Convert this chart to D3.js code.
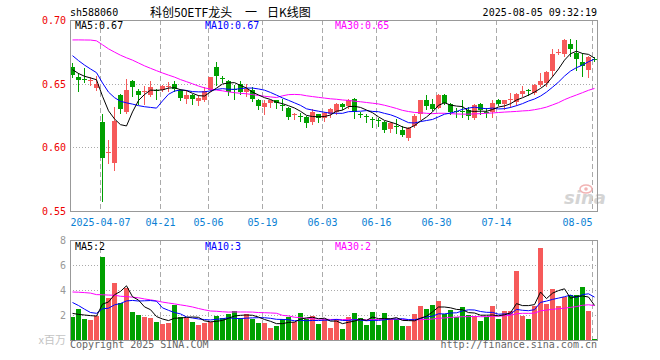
<!DOCTYPE html>
<html>
<head>
<meta charset="utf-8">
<script src="https://cdn.jsdelivr.net/npm/d3@7"></script>
<style>
body{margin:0;background:#fff;}
text{font-family:"DejaVu Sans Mono",monospace;font-size:10px;}
</style>
</head>
<body>
<div id="chart"></div>
<script>
// daily candles (yuan)
const openP = [0.663,0.655,0.6535,0.652,0.647,0.620,0.5955,0.588,0.641,0.628,
 0.652,0.644,0.644,0.641,0.645,0.645,0.6477,0.650,0.645,0.638,
 0.641,0.637,0.6374,0.645,0.663,0.6548,0.652,0.6462,0.650,0.644,
 0.645,0.637,0.632,0.635,0.637,0.633,0.631,0.6255,0.6245,0.624,
 0.620,0.626,0.623,0.626,0.628,0.634,0.632,0.638,0.6262,0.6243,
 0.622,0.6212,0.620,0.614,0.6168,0.614,0.607,0.617,0.626,0.637,
 0.634,0.631,0.641,0.634,0.6285,0.6285,0.629,0.623,0.634,0.628,
 0.628,0.637,0.634,0.6372,0.636,0.642,0.6448,0.643,0.649,0.650,
 0.660,0.674,0.673,0.681,0.674,0.667,0.661,0.6697];
const highP = [0.666,0.658,0.662,0.655,0.656,0.626,0.606,0.632,0.642,0.654,
 0.653,0.646,0.648,0.652,0.646,0.6492,0.651,0.652,0.646,0.645,
 0.642,0.641,0.647,0.6555,0.667,0.656,0.653,0.649,0.652,0.650,
 0.647,0.638,0.637,0.6375,0.6375,0.638,0.632,0.627,0.627,0.6245,
 0.630,0.6265,0.628,0.631,0.635,0.635,0.638,0.639,0.628,0.626,
 0.624,0.623,0.621,0.620,0.622,0.617,0.616,0.626,0.6375,0.641,
 0.638,0.642,0.6415,0.635,0.631,0.637,0.632,0.634,0.6345,0.631,
 0.637,0.638,0.6375,0.643,0.643,0.648,0.646,0.650,0.658,0.660,
 0.677,0.677,0.685,0.685,0.684,0.674,0.672,0.671];
const lowP = [0.655,0.644,0.651,0.649,0.645,0.558,0.588,0.582,0.627,0.627,
 0.640,0.634,0.634,0.640,0.638,0.644,0.644,0.644,0.637,0.635,
 0.634,0.633,0.636,0.644,0.649,0.651,0.641,0.638,0.642,0.640,
 0.636,0.630,0.626,0.632,0.631,0.629,0.622,0.622,0.621,0.616,
 0.618,0.620,0.621,0.624,0.626,0.630,0.631,0.623,0.624,0.620,
 0.616,0.617,0.612,0.612,0.611,0.609,0.606,0.616,0.622,0.630,
 0.629,0.6305,0.634,0.626,0.624,0.624,0.622,0.622,0.626,0.624,
 0.624,0.633,0.630,0.632,0.633,0.640,0.641,0.642,0.648,0.648,
 0.656,0.673,0.672,0.672,0.661,0.656,0.655,0.668];
const closeP = [0.657,0.653,0.653,0.6525,0.650,0.592,0.596,0.621,0.630,0.645,
 0.647,0.641,0.6445,0.647,0.6445,0.6485,0.6482,0.646,0.639,0.641,
 0.638,0.639,0.6445,0.655,0.656,0.6543,0.643,0.6457,0.644,0.646,
 0.638,0.632,0.635,0.637,0.635,0.6325,0.624,0.626,0.624,0.619,
 0.628,0.623,0.627,0.630,0.634,0.632,0.637,0.628,0.6257,0.6238,
 0.6215,0.6207,0.614,0.619,0.6163,0.610,0.615,0.625,0.637,0.632,
 0.630,0.641,0.635,0.628,0.628,0.628,0.624,0.633,0.629,0.6275,
 0.635,0.634,0.637,0.6377,0.642,0.644,0.6443,0.649,0.652,0.659,
 0.673,0.6745,0.684,0.677,0.669,0.664,0.671,0.6692];
// volume, millions of shares
const volume = [1.87,2.48,1.68,1.60,1.95,6.64,3.33,4.59,2.93,4.19,
 2.27,2.00,1.87,1.79,1.44,1.31,1.36,2.80,1.87,1.73,
 1.44,1.23,1.39,1.47,1.95,1.79,2.08,2.32,1.73,2.08,
 1.68,1.36,1.36,0.99,1.15,1.68,1.87,1.47,2.16,1.68,
 1.92,1.28,1.68,0.99,1.71,0.88,1.84,2.16,1.76,1.20,
 2.24,1.20,2.16,1.68,1.68,1.12,1.12,2.08,2.72,2.48,
 2.80,3.12,2.08,2.40,1.84,2.64,2.00,1.92,1.52,1.84,
 2.72,1.68,2.32,2.32,5.52,1.92,1.68,2.72,7.36,2.88,
 4.08,2.72,3.44,3.60,3.60,4.24,2.32,0.08];
// days before the window: not drawn, estimated so the MA lines start where the chart has them
const priorClose = [0.652,0.655,0.654,0.668,0.685,0.692,0.698,0.703,0.706,0.702,
 0.708,0.712,0.705,0.700,0.703,0.698,0.694,0.697,0.690,0.688,
 0.692,0.688,0.683,0.679,0.673,0.668,0.664,0.659,0.657];
const priorVolume = [3.0,2.6,2.8,5.6,7.0,4.1,4.9,5.4,5.0,3.7,
 3.5,4.6,4.0,3.8,4.3,3.6,4.9,4.2,4.0,4.2,
 4.9,4.6,4.26,2.6,2.99,2.88,1.93,1.85,2.12];

const tickIdx = [5,15,23,32,42,51,61,71,87];
const tickLabel = ["2025-04-07","04-21","05-06","05-19","06-03","06-16","06-30","07-14","08-05"];
const priceTicks = [0.55,0.60,0.65,0.70];
const priceGrid = [0.60,0.65];
const volTicks = [2,4,6,8];
const volGrid = [2,4,6];

const RED = "#f65a5a", GREEN = "#00a000";
const n = closeP.length;

function ma(prior, vals, k) {
  const all = prior.concat(vals);
  return vals.map((v, i) => d3.mean(all.slice(prior.length + i - k + 1, prior.length + i + 1)));
}

const svg = d3.select("#chart").append("svg")
  .attr("width", 660).attr("height", 360)
  .style("display", "block");

const x = d3.scaleLinear().domain([0, n]).range([70, 70 + 6 * n]);
const yP = d3.scaleLinear().domain([0.55, 0.70]).range([211, 20]);
const yV = d3.scaleLinear().domain([0, 8]).range([340, 240]);
const L = 70, R = 597;

// header
svg.append("text").attr("x", 70).attr("y", 16).text("sh588060");
[["科创50ETF龙头", 150], ["一", 245], ["日K线图", 267]].forEach(([t, px]) =>
  svg.append("text").attr("x", px).attr("y", 17)
    .style("font-family", "'Noto Sans CJK SC'").style("font-size", "12px")
    .text(t));
svg.append("text").attr("x", R).attr("y", 16).attr("text-anchor", "end").text("2025-08-05 09:32:19");

// grids
function panelGrid(y0, y1) {
  const g = svg.append("g").attr("shape-rendering", "crispEdges");
  g.selectAll("line").data(tickIdx).enter().append("line")
    .attr("x1", d => x(d) + 0.5).attr("x2", d => x(d) + 0.5)
    .attr("y1", y0).attr("y2", y1)
    .attr("stroke", "#aaa").attr("stroke-dasharray", "5,3");
}
panelGrid(20, 211);
panelGrid(240, 340);

svg.append("g").selectAll("line").data(priceGrid).enter().append("line")
  .attr("x1", L).attr("x2", R)
  .attr("y1", d => Math.round(yP(d)) + 0.5).attr("y2", d => Math.round(yP(d)) + 0.5)
  .attr("stroke", "#aaa").attr("stroke-dasharray", "1,2");
svg.append("g").selectAll("line").data(volGrid).enter().append("line")
  .attr("x1", L).attr("x2", R)
  .attr("y1", d => Math.round(yV(d)) + 0.5).attr("y2", d => Math.round(yV(d)) + 0.5)
  .attr("stroke", "#aaa").attr("stroke-dasharray", "1,2");

// sina watermark
const wm = svg.append("g");
wm.append("text").attr("x", 564).attr("y", 204)
  .style("font-family", "'DejaVu Sans'").style("font-size", "18px")
  .style("font-weight", "bold").style("font-style", "italic")
  .attr("fill", "#d4d4d4").text("sina");
wm.append("ellipse").attr("cx", 586).attr("cy", 189).attr("rx", 6).attr("ry", 4)
  .attr("fill", "none").attr("stroke", "#f2b4b4").attr("stroke-width", 1.5);
wm.append("circle").attr("cx", 586).attr("cy", 189).attr("r", 1.8).attr("fill", "#f2b4b4");

// candles
const idx = d3.range(n);
const up = i => closeP[i] >= openP[i];
const cg = svg.append("g").attr("shape-rendering", "crispEdges");
cg.selectAll("line").data(idx).enter().append("line")
  .attr("x1", i => x(i) + 2.5).attr("x2", i => x(i) + 2.5)
  .attr("y1", i => Math.round(yP(highP[i]))).attr("y2", i => Math.round(yP(lowP[i])) + 1)
  .attr("stroke", i => up(i) ? RED : GREEN);
cg.selectAll("rect").data(idx).enter().append("rect")
  .attr("x", i => x(i)).attr("width", 5)
  .attr("y", i => Math.round(yP(Math.max(openP[i], closeP[i]))))
  .attr("height", i => Math.max(1, Math.round(Math.abs(yP(openP[i]) - yP(closeP[i])))))
  .attr("fill", i => up(i) ? RED : GREEN);

// volume bars
svg.append("g").attr("shape-rendering", "crispEdges")
  .selectAll("rect").data(idx).enter().append("rect")
  .attr("x", i => x(i)).attr("width", 5)
  .attr("y", i => Math.round(yV(volume[i])))
  .attr("height", i => 340 - Math.round(yV(volume[i])))
  .attr("fill", i => up(i) ? RED : GREEN);

// moving averages
const ma5 = ma(priorClose, closeP, 5), ma10 = ma(priorClose, closeP, 10), ma30 = ma(priorClose, closeP, 30);
const vma5 = ma(priorVolume, volume, 5), vma10 = ma(priorVolume, volume, 10), vma30 = ma(priorVolume, volume, 30);
const lineP = d3.line().x((d, i) => x(i) + 2.5).y(d => yP(d));
const lineV = d3.line().x((d, i) => x(i) + 2.5).y(d => yV(d));
[[ma30, "#ff00ff"], [ma10, "#0000ff"], [ma5, "#000"]].forEach(([d, c]) =>
  svg.append("path").attr("d", lineP(d)).attr("fill", "none").attr("stroke", c).attr("stroke-width", 1));
[[vma30, "#ff00ff"], [vma10, "#0000ff"], [vma5, "#000"]].forEach(([d, c]) =>
  svg.append("path").attr("d", lineV(d)).attr("fill", "none").attr("stroke", c).attr("stroke-width", 1));

// borders
svg.append("rect").attr("x", L + 0.5).attr("y", 20.5).attr("width", R - L).attr("height", 191)
  .attr("fill", "none").attr("stroke", "#999");
svg.append("rect").attr("x", L + 0.5).attr("y", 240.5).attr("width", R - L).attr("height", 100)
  .attr("fill", "none").attr("stroke", "#999");

// axis labels
svg.append("g").selectAll("text").data(priceTicks).enter().append("text")
  .attr("x", 66).attr("y", d => yP(d) + 4).attr("text-anchor", "end")
  .attr("fill", "#e00").text(d => d.toFixed(2));
svg.append("g").selectAll("text").data(volTicks).enter().append("text")
  .attr("x", 66).attr("y", d => yV(d) + 4).attr("text-anchor", "end")
  .attr("fill", "#999").text(d => d);
svg.append("text").attr("x", 66).attr("y", 344).attr("text-anchor", "end")
  .style("font-family", "'Noto Sans CJK SC'").style("font-size", "11px")
  .attr("fill", "#c4c4c4").text("x百万");

svg.append("g").selectAll("text").data(tickIdx).enter().append("text")
  .attr("y", 226).attr("fill", "#0b7fd4")
  .attr("x", (d, i) => {
    const w = tickLabel[i].length * 6.02, c = x(d) + 0.5;
    return c + w / 2 > R ? c - w : c - w / 2;
  })
  .text((d, i) => tickLabel[i]);

// MA legends
svg.append("text").attr("x", 75).attr("y", 29).attr("fill", "#000").text("MA5:" + ma5[n - 1].toFixed(2));
svg.append("text").attr("x", 205).attr("y", 29).attr("fill", "#0000ff").text("MA10:" + ma10[n - 1].toFixed(2));
svg.append("text").attr("x", 335).attr("y", 29).attr("fill", "#ff00ff").text("MA30:" + ma30[n - 1].toFixed(2));
svg.append("text").attr("x", 75).attr("y", 250).attr("fill", "#000").text("MA5:" + Math.floor(vma5[n - 1]));
svg.append("text").attr("x", 205).attr("y", 250).attr("fill", "#0000ff").text("MA10:" + Math.floor(vma10[n - 1]));
svg.append("text").attr("x", 335).attr("y", 250).attr("fill", "#ff00ff").text("MA30:" + Math.floor(vma30[n - 1]));

// footer
svg.append("text").attr("x", 70).attr("y", 348).attr("fill", "#666").text("Copyright 2025 SINA.COM");
svg.append("text").attr("x", R).attr("y", 348).attr("text-anchor", "end").attr("fill", "#666").text("http://finance.sina.com.cn");
</script>
</body>
</html>
